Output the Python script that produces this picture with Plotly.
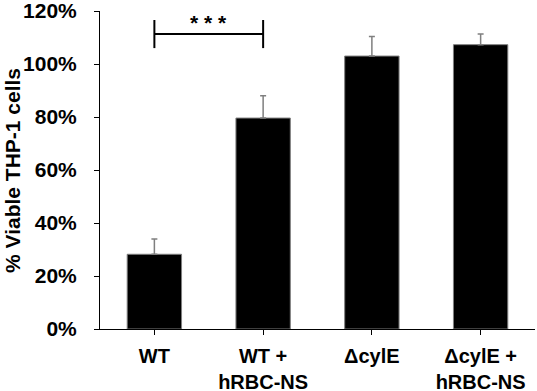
import plotly.graph_objects as go

categories = ["WT", "WT +<br>hRBC-NS", "\u0394cylE", "\u0394cylE +<br>hRBC-NS"]
viability = [28.2, 79.6, 103.0, 107.3]
error_up = [5.8, 8.4, 7.4, 4.0]
y_ticks = [0, 20, 40, 60, 80, 100, 120]
sig_pair = [0, 1]
sig_level = 111.3
sig_tick_low = 106.0
sig_tick_high = 116.6
sig_label = "* * *"

FONT = "Liberation Sans, Arial, sans-serif"

fig = go.Figure()
fig.add_trace(go.Bar(
    x=list(range(len(categories))),
    y=viability,
    marker=dict(color="black", line=dict(color="#7f7f7f", width=1)),
    error_y=dict(type="data", array=error_up, arrayminus=[0]*len(error_up),
                 symmetric=False, color="#7f7f7f", thickness=1.5, width=3),
    width=0.5,
))

# significance bracket
x0, x1 = sig_pair
fig.add_shape(type="line", x0=x0, x1=x1, y0=sig_level, y1=sig_level,
              xref="x", yref="y", line=dict(color="black", width=2))
for xv in sig_pair:
    fig.add_shape(type="line", x0=xv, x1=xv, y0=sig_tick_low, y1=sig_tick_high,
                  xref="x", yref="y", line=dict(color="black", width=2))
fig.add_annotation(x=(x0 + x1) / 2, y=sig_level, yshift=-2, text=sig_label,
                   showarrow=False, xref="x", yref="y", yanchor="bottom",
                   font=dict(family=FONT, size=21, color="black", weight="bold"))

fig.add_annotation(x=-0.2023, y=0.5, xref="paper", yref="paper",
                   text="% Viable THP-1 cells", textangle=-90, showarrow=False,
                   xanchor="center", yanchor="middle",
                   font=dict(family=FONT, size=21, color="black", weight="bold"))

fig.update_layout(
    width=537, height=391,
    margin=dict(l=100, r=2, t=11, b=62),
    plot_bgcolor="white", paper_bgcolor="white",
    showlegend=False,
    font=dict(family=FONT, color="black"),
    xaxis=dict(
        tickmode="array",
        tickvals=list(range(len(categories))),
        ticktext=categories,
        range=[-0.5, len(categories) - 0.5],
        tickson="boundaries",
        ticks="outside", ticklen=5, tickwidth=1, tickcolor="black",
        showline=True, linecolor="black", linewidth=1,
        showgrid=False, zeroline=False, automargin=False,
        tickfont=dict(family=FONT, size=20, color="black", weight="bold"),
        ticklabelstandoff=4, ticklabeloverflow="allow",
    ),
    yaxis=dict(
        range=[0, 120],
        tickmode="array", tickvals=y_ticks,
        ticktext=[f"{v}%" for v in y_ticks],
        ticks="outside", ticklen=5, tickwidth=1, tickcolor="black",
        showline=True, linecolor="black", linewidth=1,
        showgrid=False, zeroline=False, automargin=False,
        tickfont=dict(family=FONT, size=21, color="black", weight="bold"),
        ticklabelstandoff=13, ticklabeloverflow="allow",
    ),
)

fig.write_html("out.html", config={"displayModeBar": False},
               post_script="document.body.style.margin='0';document.body.style.overflow='hidden';")
